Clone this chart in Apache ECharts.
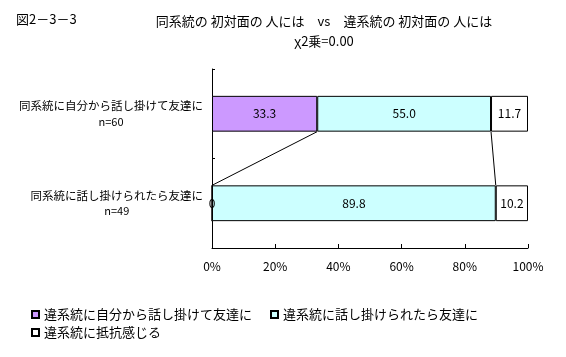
<!DOCTYPE html>
<html>
<head>
<meta charset="utf-8">
<script src="https://cdn.jsdelivr.net/npm/echarts@6/dist/echarts.min.js"></script>
<style>html,body{margin:0;padding:0;background:#fff;}#c{width:566px;height:357px;}</style>
</head>
<body>
<div id="c"></div>
<script>
const figureLabel = '図2－3－3';
const titleLine1 = '同系統の 初対面の 人には　vs　違系統の 初対面の 人には';
const titleLine2 = 'χ2乗=0.00';
const categories = ['同系統に自分から話し掛けて友達に', '同系統に話し掛けられたら友達に'];
const sampleSizes = ['n=60', 'n=49'];
const seriesNames = ['違系統に自分から話し掛けて友達に', '違系統に話し掛けられたら友達に', '違系統に抵抗感じる'];
const valuesSelf = [33.3, 0];
const valuesTalked = [55.0, 89.8];
const valuesResist = [11.7, 10.2];
const seriesColors = ['#CC99FF', '#CCFFFF', '#FFFFFF'];
const xTicks = [0, 20, 40, 60, 80, 100];

const FONT = '"Noto Sans CJK JP", "Noto Sans", sans-serif';
const allValues = [valuesSelf, valuesTalked, valuesResist];

// cumulative boundaries for series lines
const cum = categories.map((_, ci) => {
  let s = 0; return allValues.map(v => (s += v[ci]));
});
const seriesLineData = [0, 1].map(i => [cum[0][i], cum[1][i], 0]);

const BAR_FRAC = 0.4;
const labelFmt = p => (p.value === 0 ? '0' : Number(p.value).toFixed(1));

const chart = echarts.init(document.getElementById('c'), null, {renderer: 'canvas'});
const barSeries = seriesNames.map((name, i) => ({
  name, type: 'bar', stack: 'total', barWidth: (BAR_FRAC * 100) + '%',
  data: allValues[i],
  itemStyle: {color: seriesColors[i], borderColor: '#000', borderWidth: 1},
  label: {show: true, position: 'inside', color: '#000', fontFamily: FONT, fontSize: 12, formatter: labelFmt},
  emphasis: {disabled: true}, animation: false
}));

chart.setOption({
  animation: false,
  textStyle: {fontFamily: FONT},
  title: [
    {text: figureLabel, left: 11, top: 8, textStyle: {fontSize: 13, fontWeight: 'normal', color: '#000', fontFamily: FONT}},
    {text: titleLine1 + '\n' + titleLine2, left: 319, top: 6, textAlign: 'center',
     textStyle: {fontSize: 13, fontWeight: 'normal', color: '#000', fontFamily: FONT, lineHeight: 20, align: 'center'}}
  ],
  legend: [
    {data: seriesNames.slice(0, 2), left: 26, top: 303, itemGap: 18, itemWidth: 7, itemHeight: 7, icon: 'rect',
     textStyle: {fontSize: 13, color: '#000', fontFamily: FONT}, selectedMode: false},
    {data: seriesNames.slice(2), left: 26, top: 321, itemWidth: 7, itemHeight: 7, icon: 'rect',
     textStyle: {fontSize: 13, color: '#000', fontFamily: FONT}, selectedMode: false}
  ],
  grid: {left: 212, right: 38, top: 69, bottom: 109, containLabel: false},
  xAxis: {
    type: 'value', min: 0, max: 100, interval: 20,
    axisLine: {show: true, lineStyle: {color: '#000'}},
    axisTick: {show: true, inside: true, length: 4, lineStyle: {color: '#000'}},
    splitLine: {show: false},
    axisLabel: {formatter: '{value}%', color: '#000', fontSize: 12, fontFamily: FONT, margin: 12}
  },
  yAxis: {
    type: 'category', inverse: true, data: categories,
    axisLine: {show: true, lineStyle: {color: '#000'}},
    axisTick: {show: true, inside: true, length: 3, lineStyle: {color: '#000'}},
    axisLabel: {
      color: '#000', fontSize: 11.5, fontFamily: FONT, margin: 9, lineHeight: 16,
      formatter: (v, i) => '{a|' + v + '}\n{b|' + sampleSizes[i] + '}',
      rich: {a: {align: 'center', fontSize: 11.5, lineHeight: 16}, b: {align: 'center', fontSize: 11, lineHeight: 16}}
    }
  },
  series: barSeries.concat([{
    type: 'custom', name: 'series-lines', silent: true, z: 3,
    encode: {x: [0, 1], y: 2},
    data: seriesLineData,
    renderItem: (params, api) => {
      const yTop = api.coord([0, 0])[1];
      const yBot = api.coord([0, 1])[1];
      const half = api.size([0, 1])[1] * BAR_FRAC / 2;
      const xA = api.coord([api.value(0), 0])[0];
      const xB = api.coord([api.value(1), 1])[0];
      return {type: 'line', shape: {x1: xA, y1: yTop + half, x2: xB, y2: yBot - half},
              style: {stroke: '#000', lineWidth: 1}};
    }
  }])
});
</script>
</body>
</html>
